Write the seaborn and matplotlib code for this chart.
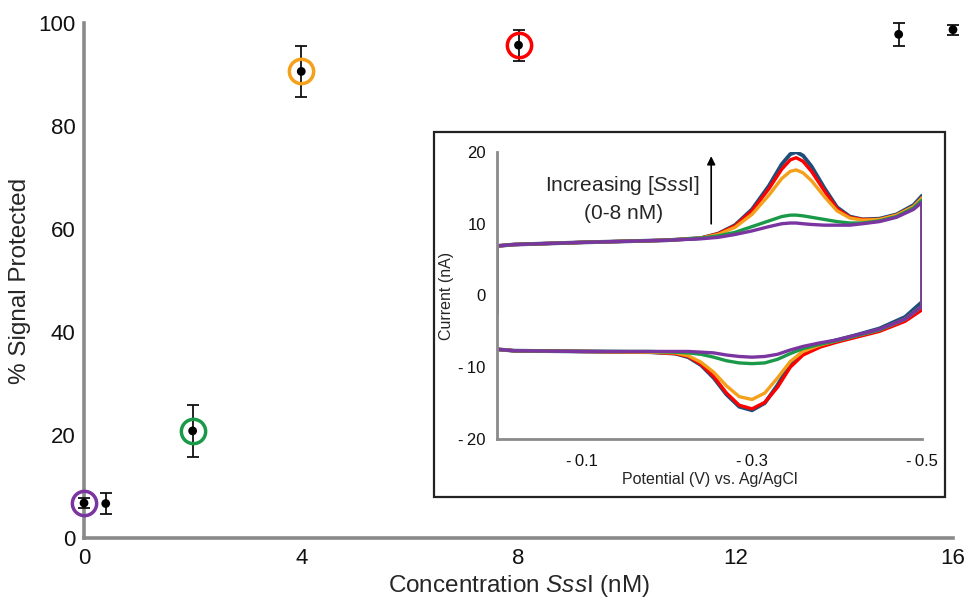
import numpy as np
import pandas as pd
import matplotlib
matplotlib.use('Agg')
import matplotlib.pyplot as plt
import seaborn as sns
from matplotlib.patches import Rectangle

# main panel: % signal protected vs SssI concentration
conc = [0, 0.4, 2, 4, 8, 15, 16]
signal = [6.8, 6.7, 20.8, 90.6, 95.7, 97.8, 98.7]
signal_err = [1.0, 2.0, 5.0, 5.0, 3.0, 2.3, 1.0]

# the four circled conditions also shown in the inset
ring_conc = [0, 2, 4, 8]
ring_signal = [6.8, 20.8, 90.6, 95.7]
ring_colors = ['#7B35A0', '#1A9A48', '#F5A01A', '#FF0000']

# inset: cyclic voltammograms (potential given as magnitude, V vs Ag/AgCl)
up_pot = [0, 0, 0.02, 0.1, 0.2, 0.24, 0.26, 0.28, 0.30, 0.32, 0.335, 0.345,
          0.352, 0.36, 0.37, 0.385, 0.40, 0.415, 0.43, 0.45, 0.47, 0.49, 0.50]
lo_pot = [0.50, 0.48, 0.45, 0.42, 0.40, 0.38, 0.36, 0.345, 0.33, 0.315, 0.30,
          0.285, 0.27, 0.255, 0.24, 0.225, 0.21, 0.18, 0.1, 0.02, 0]

blue_up = [-2.5, 6.9, 7.1, 7.4, 7.7, 8.0, 8.6, 9.8, 12.0, 15.3, 18.3, 19.7,
           20.0, 19.5, 18.0, 15.0, 12.3, 11.0, 10.6, 10.7, 11.3, 12.6, 13.9]
red_up = [-2.5, 6.9, 7.1, 7.4, 7.7, 8.0, 8.6, 9.7, 11.8, 14.9, 17.6, 18.9,
          19.2, 18.7, 17.3, 14.6, 12.1, 10.9, 10.6, 10.6, 11.2, 12.4, 13.6]
orange_up = [-2.5, 6.9, 7.1, 7.4, 7.7, 8.0, 8.5, 9.5, 11.3, 14.0, 16.3, 17.3,
             17.5, 17.1, 16.0, 13.8, 11.8, 10.8, 10.5, 10.6, 11.2, 12.4, 13.6]
green_up = [-2.5, 6.9, 7.1, 7.4, 7.7, 8.0, 8.3, 8.8, 9.6, 10.4, 11.0, 11.2,
            11.2, 11.1, 10.9, 10.6, 10.3, 10.1, 10.1, 10.4, 11.0, 12.2, 13.3]
purple_up = [-2.5, 6.9, 7.1, 7.4, 7.7, 7.9, 8.1, 8.5, 9.0, 9.6, 10.0, 10.1,
             10.1, 10.0, 9.9, 9.8, 9.8, 9.8, 10.0, 10.3, 10.9, 12.0, 13.0]

blue_lo = [-0.9, -3.0, -4.6, -5.6, -6.2, -6.8, -7.8, -9.5, -12.5, -15.0, -16.0,
           -15.5, -13.8, -11.5, -9.7, -8.6, -8.1, -7.9, -7.8, -7.7, -7.5]
red_lo = [-2.0, -3.6, -5.0, -5.9, -6.5, -7.2, -8.3, -10.0, -12.8, -14.9, -15.8,
          -15.3, -13.6, -11.3, -9.6, -8.5, -8.1, -7.9, -7.8, -7.7, -7.5]
orange_lo = [-1.5, -3.3, -4.8, -5.7, -6.3, -6.9, -7.8, -9.2, -11.5, -13.6, -14.5,
             -14.1, -12.6, -10.7, -9.3, -8.4, -8.0, -7.9, -7.8, -7.7, -7.5]
green_lo = [-1.5, -3.3, -4.8, -5.7, -6.3, -6.8, -7.4, -8.1, -8.9, -9.4, -9.5,
            -9.4, -9.1, -8.6, -8.2, -8.0, -7.9, -7.8, -7.8, -7.7, -7.5]
purple_lo = [-1.5, -3.3, -4.7, -5.6, -6.2, -6.6, -7.1, -7.6, -8.2, -8.5, -8.6,
             -8.5, -8.3, -8.0, -7.9, -7.8, -7.8, -7.8, -7.8, -7.7, -7.5]

sns.set_style('white')
plt.rcParams['font.family'] = ['Liberation Sans', 'DejaVu Sans']
plt.rcParams['mathtext.fontset'] = 'custom'
plt.rcParams['mathtext.rm'] = 'Liberation Sans'
plt.rcParams['mathtext.it'] = 'Liberation Sans:italic'
plt.rcParams['axes.unicode_minus'] = False

axis_gray = '#8a8a8a'

fig = plt.figure(figsize=(9.68, 6.01), dpi=100)
ax = fig.add_axes([0.0868, 0.1048, 0.8977, 0.8569])

ax.errorbar(conc, signal, yerr=signal_err, fmt='none', ecolor='#111111',
            elinewidth=1.3, capsize=4, capthick=1.3, zorder=3, clip_on=False)
sns.scatterplot(x=conc, y=signal, color='black', s=40, edgecolor='none',
                ax=ax, zorder=4, clip_on=False)
for xc, yc, col in zip(ring_conc, ring_signal, ring_colors):
    ax.plot(xc, yc, 'o', ms=17.5, mfc='none', mec=col, mew=2.5, zorder=5,
            clip_on=False)

ax.set_xlim(0, 16)
ax.set_ylim(0, 100)
ax.set_xticks([0, 4, 8, 12, 16])
ax.set_yticks([0, 20, 40, 60, 80, 100])
for side in ['top', 'right']:
    ax.spines[side].set_visible(False)
for side in ['left', 'bottom']:
    ax.spines[side].set_color(axis_gray)
    ax.spines[side].set_linewidth(2.6)
ax.tick_params(axis='both', direction='out', length=5, width=2.4,
               color=axis_gray, labelsize=16, pad=2, labelcolor='#111111')
ax.tick_params(axis='y', pad=1)
ax.set_ylabel('% Signal Protected', fontsize=17.5, labelpad=5)
ax.set_xlabel('Concentration $\\mathit{Sss}$I (nM)', fontsize=17.5, labelpad=3)

# inset frame
fig.patches.append(Rectangle((0.4483, 0.1730), 0.5279, 0.6073,
                             transform=fig.transFigure, fill=True,
                             facecolor='white', edgecolor='#222222',
                             linewidth=1.6, zorder=2))

ins = fig.add_axes([0.5134, 0.2696, 0.4391, 0.4775])
ins.set_zorder(3)
ins.patch.set_alpha(0)

cv = [('#1F4E79', blue_up, blue_lo, 2.8),
      ('#FF0000', red_up, red_lo, 2.4),
      ('#F5A01A', orange_up, orange_lo, 2.4),
      ('#1A9A48', green_up, green_lo, 2.4),
      ('#7B35A0', purple_up, purple_lo, 2.4)]
for col, up, lo, lw in cv:
    df = pd.DataFrame({'E': [-p for p in up_pot + lo_pot], 'I': up + lo})
    sns.lineplot(data=df, x='E', y='I', sort=False, estimator=None,
                 color=col, lw=lw, ax=ins)

ins.set_xlim(0, -0.5)
ins.set_ylim(-20, 20)
ins.set_xticks([-0.1, -0.3, -0.5])
ins.set_xticklabels(['-\u20090.1', '-\u20090.3', '-\u20090.5'])
ins.set_yticks([-20, -10, 0, 10, 20])
ins.set_yticklabels(['-\u200920', '-\u200910', '0', '10', '20'])
for side in ['top', 'right']:
    ins.spines[side].set_visible(False)
for side in ['left', 'bottom']:
    ins.spines[side].set_color(axis_gray)
    ins.spines[side].set_linewidth(2.0)
ins.tick_params(axis='both', direction='out', length=4, width=1.8,
                color=axis_gray, labelsize=12, pad=4, labelcolor='#111111')
ins.tick_params(axis='x', pad=7)
ins.set_xlabel('Potential (V) vs. Ag/AgCl', fontsize=11.5, labelpad=2)
ins.set_ylabel('Current (nA)', fontsize=11.5, labelpad=3)

ins.text(-0.147, 15.3, 'Increasing [$\\mathit{Sss}$I]', ha='center',
         va='center', fontsize=15)
ins.text(-0.149, 11.4, '(0-8 nM)', ha='center', va='center', fontsize=15)
ins.annotate('', xy=(-0.252, 19.8), xytext=(-0.252, 9.6),
             arrowprops=dict(arrowstyle='-|>', color='black', lw=1.2,
                             mutation_scale=12))

fig.savefig('out.png', dpi=100)
